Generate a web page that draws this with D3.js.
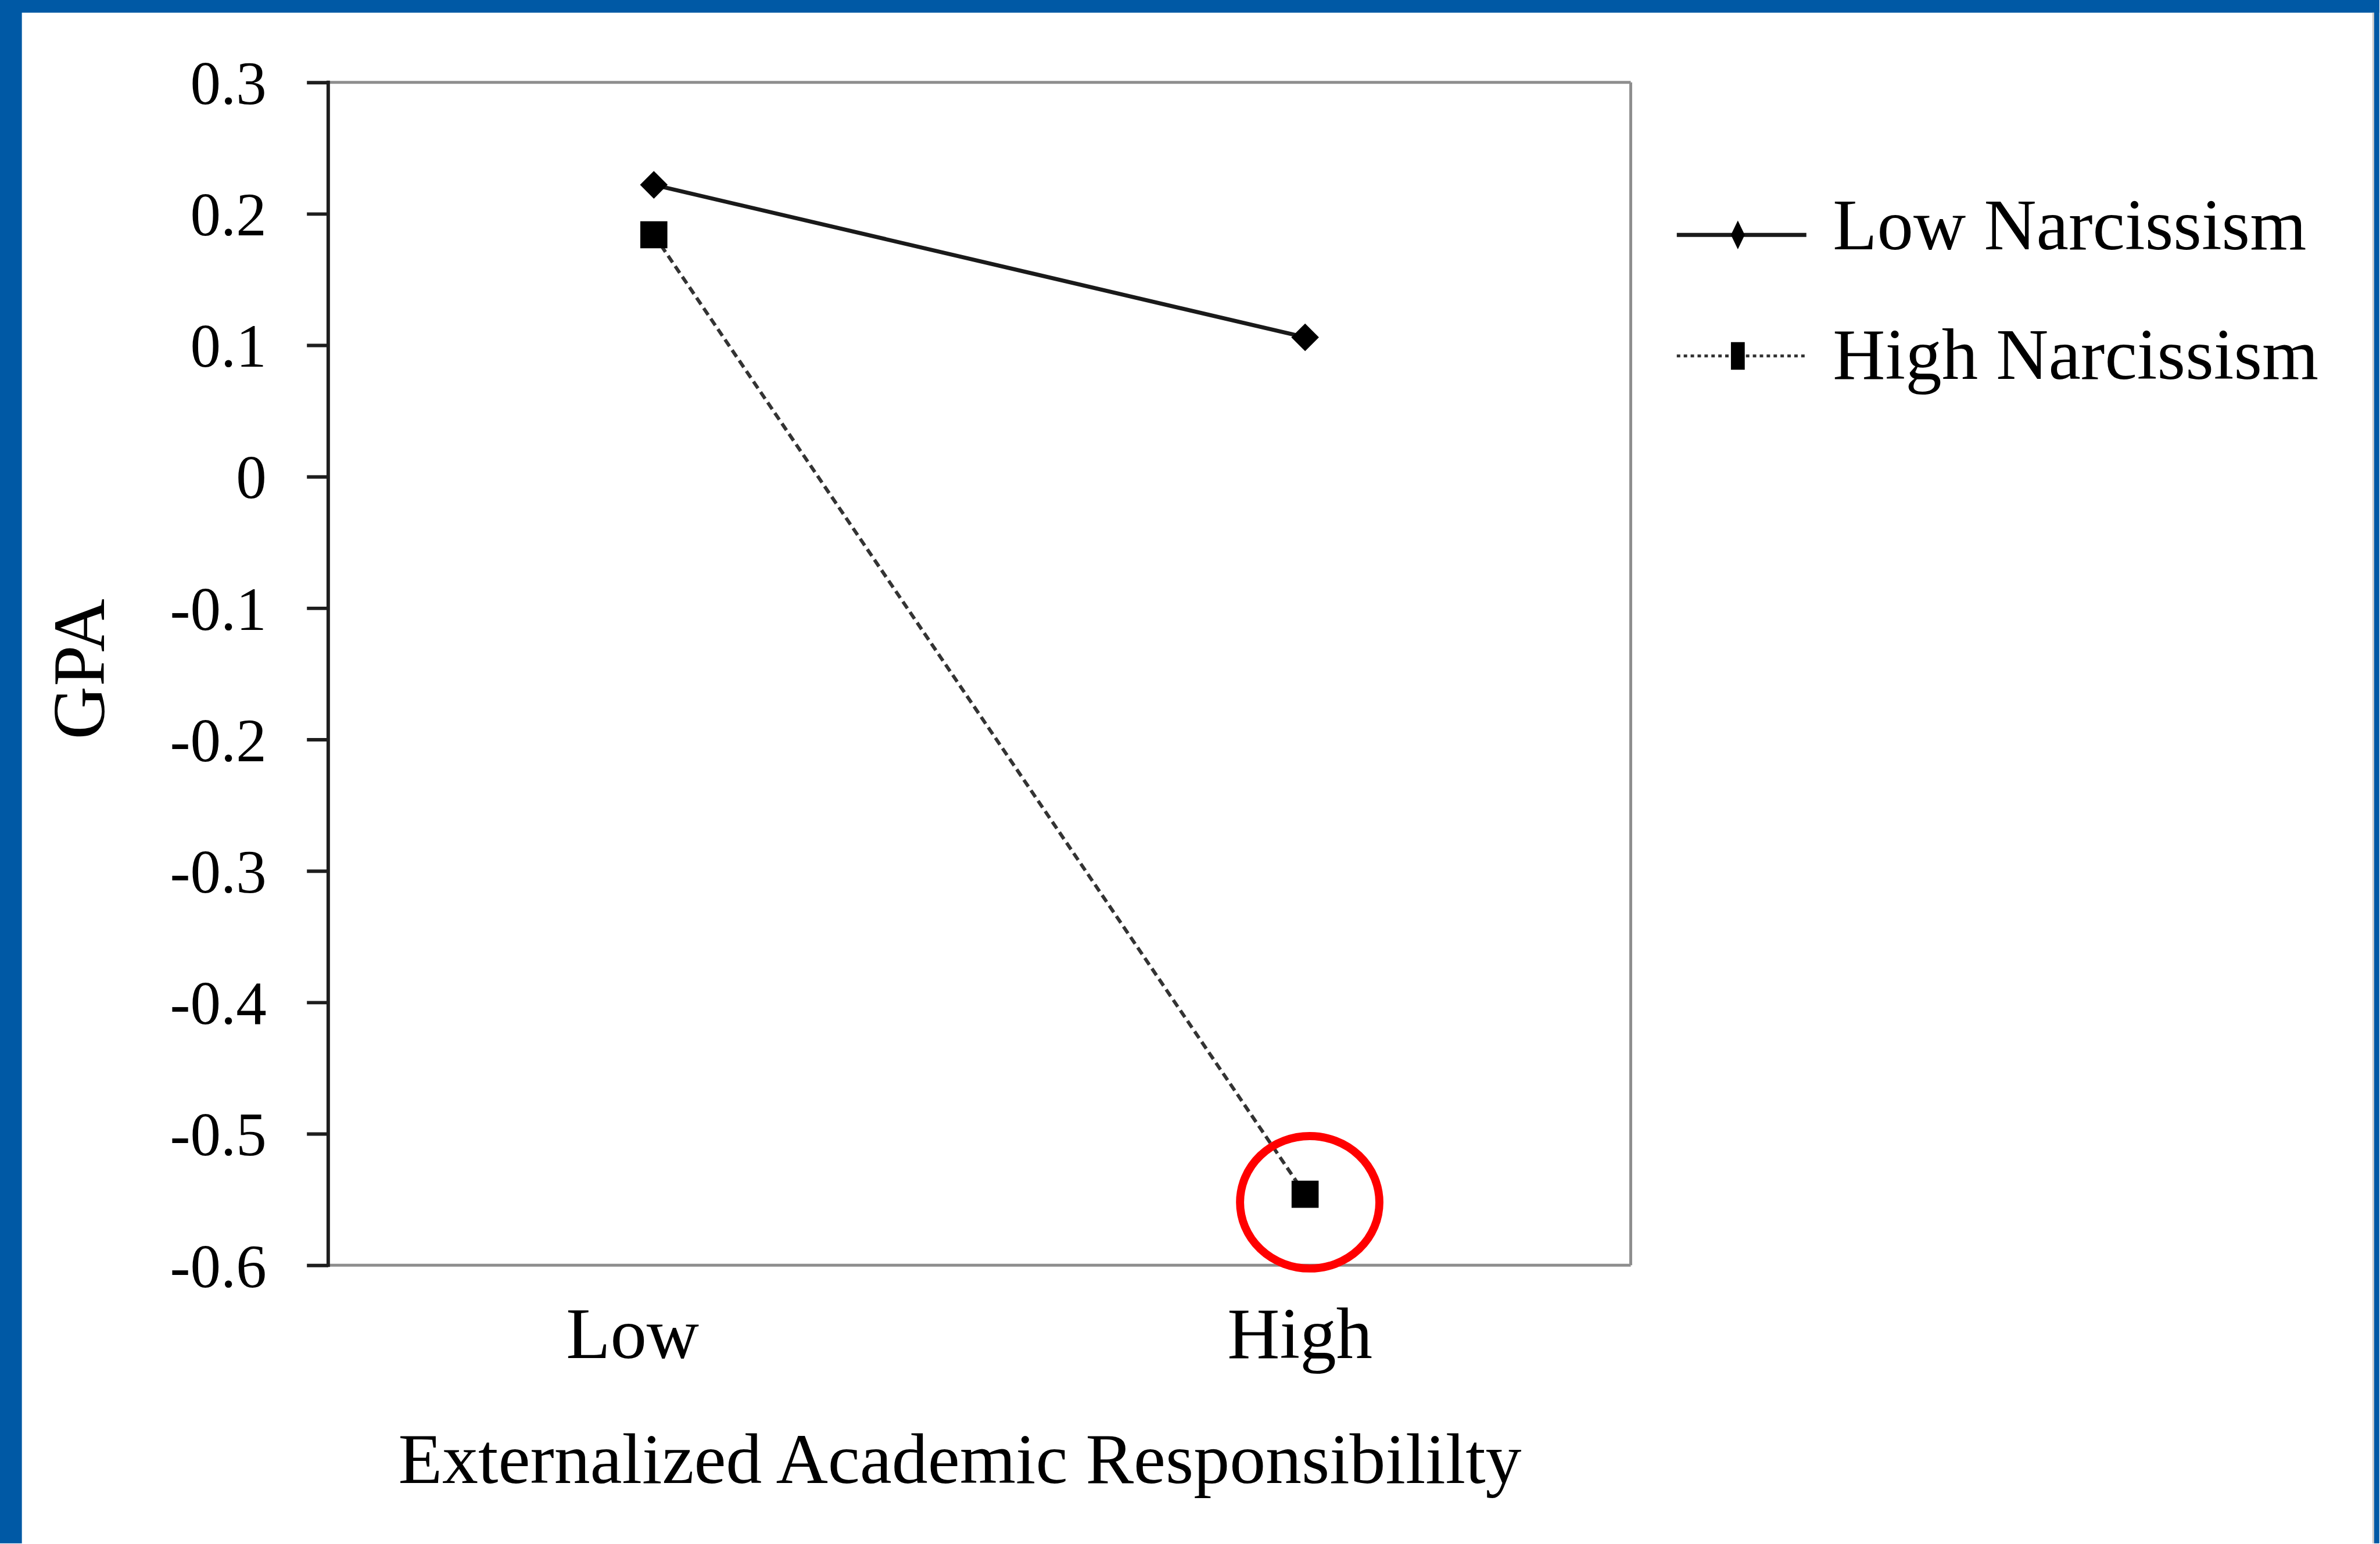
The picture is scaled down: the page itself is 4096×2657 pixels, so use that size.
<!DOCTYPE html>
<html>
<head>
<meta charset="utf-8">
<script src="https://cdn.jsdelivr.net/npm/d3@7"></script>
<style>
  html, body { margin: 0; padding: 0; background: #ffffff; }
  svg { display: block; }
  text { font-family: "Liberation Serif", "Times New Roman", serif; fill: #000; }
</style>
</head>
<body>
<script>
// ---- data ----
const categories = ["Low", "High"];
const seriesNames = ["Low Narcissism", "High Narcissism"];
const lowNarcissism = [0.222, 0.106];
const highNarcissism = [0.184, -0.546];
const yTicks = [0.3, 0.2, 0.1, 0, -0.1, -0.2, -0.3, -0.4, -0.5, -0.6];
const yDomain = [-0.6, 0.3];
const xTitle = "Externalized Academic Responsibililty";
const yTitle = "GPA";

// ---- layout (reference pixel space, scaled by 0.991) ----
const S = 0.991;
const W = 4096, H = 2657;
const RW = 4132, RH = 2680;
const plot = { left: 570, right: 2832, top: 143, bottom: 2197 };

const svg = d3.select("body").append("svg")
  .attr("width", W).attr("height", H);

const root = svg.append("g").attr("transform", `scale(${S})`);

// background and blue frame
root.append("rect").attr("x", 0).attr("y", 0).attr("width", RW).attr("height", RH).attr("fill", "#ffffff");
root.append("rect").attr("x", 0).attr("y", 0).attr("width", RW).attr("height", 22).attr("fill", "#0059A5");
root.append("rect").attr("x", 0).attr("y", 0).attr("width", 38).attr("height", RH).attr("fill", "#0059A5");
root.append("rect").attr("x", RW - 9).attr("y", 0).attr("width", 9).attr("height", RH).attr("fill", "#0059A5");
root.append("rect").attr("x", RW - 12).attr("y", 22).attr("width", 3).attr("height", RH - 22).attr("fill", "#c8c8c8");

const x = d3.scalePoint().domain(categories).range([plot.left, plot.right]).padding(0.5);
const y = d3.scaleLinear().domain(yDomain).range([plot.bottom, plot.top]);

// plot box (gray top/right/bottom)
const gray = "#8e8e8e";
root.append("line").attr("x1", plot.left).attr("x2", plot.right).attr("y1", plot.top).attr("y2", plot.top)
  .attr("stroke", gray).attr("stroke-width", 5);
root.append("line").attr("x1", plot.right).attr("x2", plot.right).attr("y1", plot.top).attr("y2", plot.bottom)
  .attr("stroke", gray).attr("stroke-width", 5);
root.append("line").attr("x1", plot.left).attr("x2", plot.right).attr("y1", plot.bottom).attr("y2", plot.bottom)
  .attr("stroke", gray).attr("stroke-width", 5);

// y axis
const yAxis = d3.axisLeft(y)
  .tickValues(yTicks)
  .tickSize(37)
  .tickPadding(70)
  .tickFormat(d => d === 0 ? "0" : d.toFixed(1));
const gy = root.append("g").attr("transform", `translate(${plot.left},0)`).call(yAxis);
gy.select(".domain").attr("stroke", "#1e1e1e").attr("stroke-width", 6)
  .attr("d", `M0,${plot.top - 3}V${plot.bottom + 3}`);
gy.selectAll(".tick line").attr("stroke", "#1e1e1e").attr("stroke-width", 6);
gy.selectAll(".tick text")
  .attr("font-family", "Liberation Serif, Times New Roman, serif")
  .attr("font-size", 106)
  .attr("fill", "#000")
  .attr("dy", "0.35em")
  .attr("x", -107);

// x category labels (Excel-style slight leftward offset)
const labelShift = { Low: -37, High: -9 };
root.append("g").selectAll("text").data(categories).join("text")
  .attr("x", d => x(d) + labelShift[d])
  .attr("y", 2358)
  .attr("text-anchor", "middle")
  .attr("font-size", 126)
  .text(d => d);

// axis titles
root.append("text")
  .attr("x", 1667).attr("y", 2575)
  .attr("text-anchor", "middle")
  .attr("font-size", 125)
  .text(xTitle);

root.append("text")
  .attr("transform", `translate(181,1162) rotate(-90)`)
  .attr("text-anchor", "middle")
  .attr("font-size", 128)
  .text(yTitle);

// series
const series = [
  { name: seriesNames[0], values: lowNarcissism, dash: null },
  { name: seriesNames[1], values: highNarcissism, dash: "14,8" }
];

const line = d3.line().x((d, i) => x(categories[i])).y(d => y(d));

series.forEach(s => {
  root.append("path")
    .datum(s.values)
    .attr("d", line)
    .attr("fill", "none")
    .attr("stroke", s.dash ? "#333" : "#1a1a1a")
    .attr("stroke-width", s.dash ? 6 : 7)
    .attr("stroke-dasharray", s.dash);
});

// markers
const diamondPath = "M0,-24L24,0L0,24L-24,0Z";
const squarePath = "M-23.5,-23.5H23.5V23.5H-23.5Z";
root.append("g").selectAll("path").data(lowNarcissism).join("path")
  .attr("transform", (d, i) => `translate(${x(categories[i])},${y(d)})`)
  .attr("d", diamondPath).attr("fill", "#000");
root.append("g").selectAll("path").data(highNarcissism).join("path")
  .attr("transform", (d, i) => `translate(${x(categories[i])},${y(d)})`)
  .attr("d", squarePath).attr("fill", "#000");

// red annotation ellipse around the High/High Narcissism point
root.append("ellipse")
  .attr("cx", x(categories[1]) + 8)
  .attr("cy", y(highNarcissism[1]) + 14)
  .attr("rx", 121).attr("ry", 115)
  .attr("fill", "none")
  .attr("stroke", "#ff0000")
  .attr("stroke-width", 14);

// legend
const legendRows = [
  { name: seriesNames[0], y: 408, dash: null, path: "M0,-25L12,0L0,25L-12,0Z", baseline: 433 },
  { name: seriesNames[1], y: 618, dash: "6,6", path: "M-12,-24H12V24H-12Z", baseline: 658 }
];
const lg = root.append("g");
legendRows.forEach(r => {
  lg.append("line")
    .attr("x1", 2912).attr("x2", 3137).attr("y1", r.y).attr("y2", r.y)
    .attr("stroke", r.dash ? "#333" : "#1a1a1a")
    .attr("stroke-width", r.dash ? 5 : 7)
    .attr("stroke-dasharray", r.dash);
  lg.append("path")
    .attr("transform", `translate(3018,${r.y})`)
    .attr("d", r.path).attr("fill", "#000");
  lg.append("text")
    .attr("x", 3183).attr("y", r.baseline)
    .attr("font-size", 126)
    .text(r.name);
});
</script>
</body>
</html>
